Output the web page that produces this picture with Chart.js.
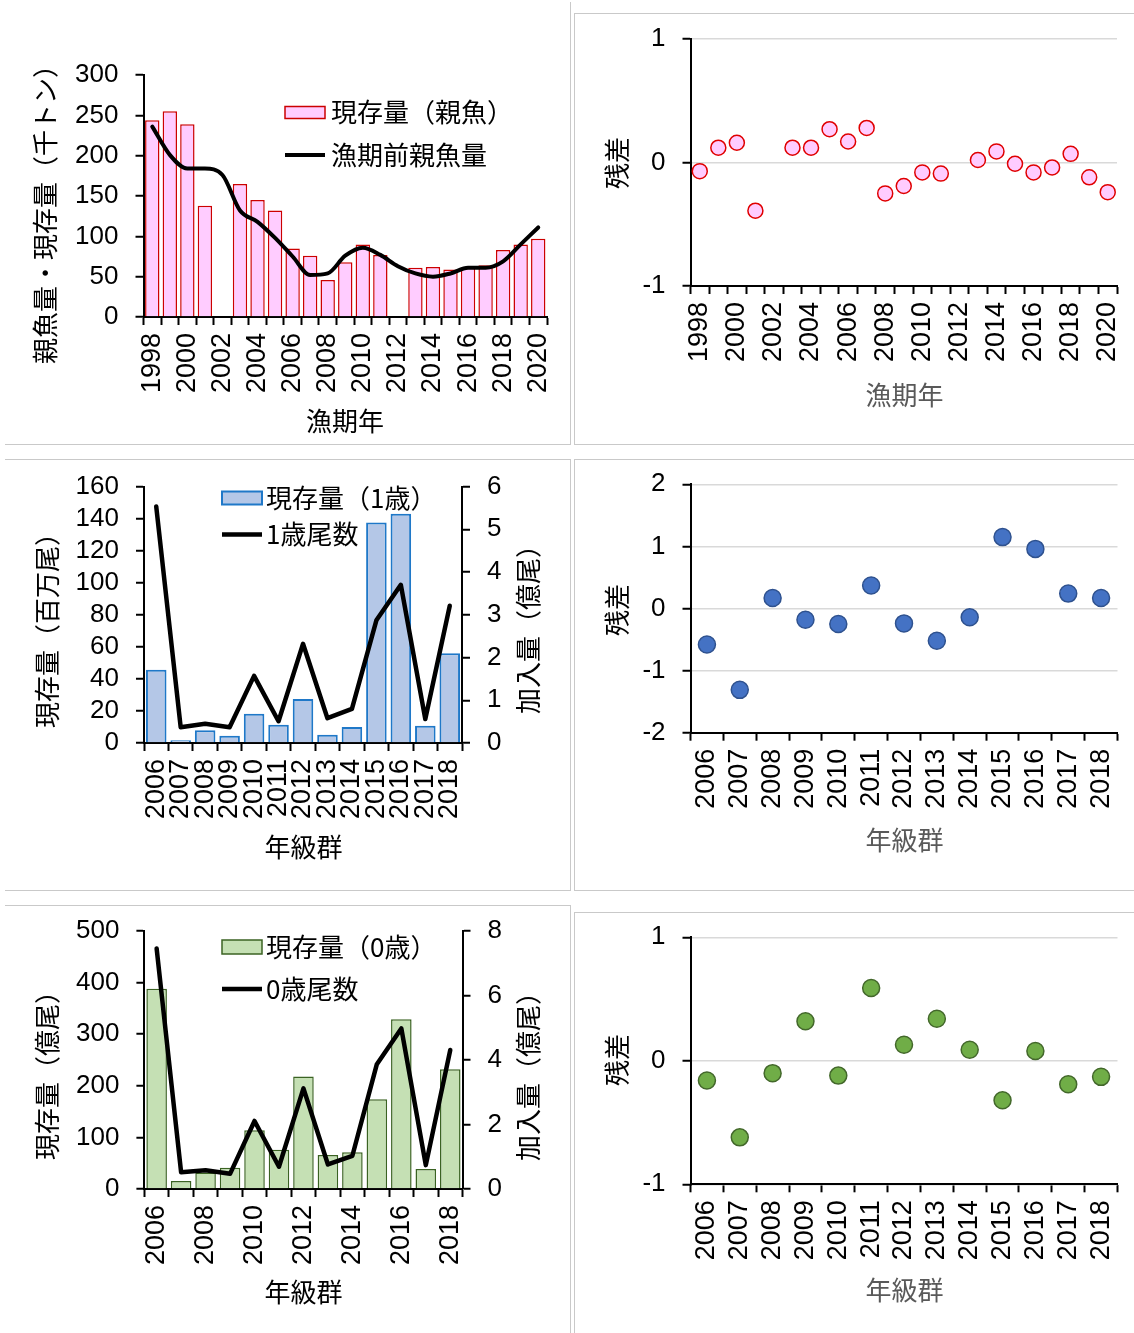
<!DOCTYPE html>
<html lang="ja">
<head>
<meta charset="utf-8">
<title>親魚量・加入量と残差</title>
<script src="https://cdn.jsdelivr.net/npm/chart.js@4.4.1/dist/chart.umd.min.js"></script>
<style>
  html, body { margin: 0; padding: 0; background: #fff; }
  body { width: 1134px; height: 1333px; position: relative; overflow: hidden; }
  canvas { position: absolute; }
  .rule { position: absolute; background: #c9c9c9; }
</style>
</head>
<body>
<canvas id="spawnerChart" width="570" height="444" style="left:0;top:0"></canvas>
<canvas id="spawnerResid" width="560" height="444" style="left:574px;top:0"></canvas>
<canvas id="age1Chart" width="570" height="431" style="left:0;top:459px"></canvas>
<canvas id="age1Resid" width="560" height="431" style="left:574px;top:459px"></canvas>
<canvas id="age0Chart" width="570" height="428" style="left:0;top:905px"></canvas>
<canvas id="age0Resid" width="560" height="428" style="left:574px;top:905px"></canvas>

<!-- panel frames -->
<div class="rule" style="left:570px;top:2px;width:1px;height:442px"></div>
<div class="rule" style="left:5px;top:444px;width:566px;height:1px"></div>
<div class="rule" style="left:574px;top:13px;width:1px;height:431px"></div>
<div class="rule" style="left:574px;top:13px;width:560px;height:1px"></div>
<div class="rule" style="left:574px;top:444px;width:560px;height:1px"></div>

<div class="rule" style="left:5px;top:459px;width:566px;height:1px"></div>
<div class="rule" style="left:570px;top:459px;width:1px;height:431px"></div>
<div class="rule" style="left:5px;top:890px;width:566px;height:1px"></div>
<div class="rule" style="left:574px;top:459px;width:1px;height:431px"></div>
<div class="rule" style="left:574px;top:459px;width:560px;height:1px"></div>
<div class="rule" style="left:574px;top:890px;width:560px;height:1px"></div>

<div class="rule" style="left:5px;top:905px;width:566px;height:1px"></div>
<div class="rule" style="left:570px;top:905px;width:1px;height:428px"></div>
<div class="rule" style="left:574px;top:912px;width:560px;height:1px"></div>
<div class="rule" style="left:574px;top:912px;width:1px;height:421px"></div>

<script>
// ---- data ----
const seasonYears = ['1998','1999','2000','2001','2002','2003','2004','2005','2006','2007','2008',
  '2009','2010','2011','2012','2013','2014','2015','2016','2017','2018','2019','2020'];
// 現存量（親魚）, 千トン
const spawnerStock = [244, 255, 239, 138, null, 165, 145, 132, 85, 76, 46,
  68, 90, 77, null, 61, 62, 59, 61, 64, 83, 90, 97];
// 漁期前親魚量, 千トン
const preSeasonSpawners = [236, 201, 184, 184, 176, 132, 118, 98, 75, 52, 54,
  76, 86, 77, 63, 54, 50, 54, 61, 61, 69, 90, 111];
const spawnerResiduals = [-0.07, 0.12, 0.16, -0.39, null, 0.12, 0.12, 0.27, 0.17, 0.28, -0.25,
  -0.19, -0.08, -0.09, null, 0.02, 0.09, -0.01, -0.08, -0.04, 0.07, -0.12, -0.24];

const yearClasses = ['2006','2007','2008','2009','2010','2011','2012','2013','2014','2015','2016','2017','2018'];
// 現存量（1歳）, 百万尾 / 1歳尾数, 億尾
const age1Stock = [45.7, 1.7, 7.9, 4.6, 18.3, 11.4, 27.4, 5.2, 10.0, 137.6, 143.0, 10.8, 56.0];
const age1Count = [5.53, 0.37, 0.45, 0.37, 1.57, 0.51, 2.32, 0.58, 0.80, 2.87, 3.70, 0.56, 3.21];
const age1Residuals = [-0.58, -1.31, 0.17, -0.18, -0.25, 0.37, -0.24, -0.52, -0.14, 1.15, 0.96, 0.24, 0.17];
// 現存量（0歳）, 億尾 / 0歳尾数, 億尾
const age0Stock = [388, 15.5, 32, 41, 114, 76, 218, 66, 71, 174, 329, 39, 232];
const age0Count = [7.46, 0.52, 0.58, 0.47, 2.11, 0.69, 3.12, 0.76, 1.03, 3.87, 4.98, 0.74, 4.31];
const age0Residuals = [-0.16, -0.62, -0.10, 0.32, -0.12, 0.59, 0.13, 0.34, 0.09, -0.32, 0.08, -0.19, -0.13];

// ---- shared styling ----
const LATIN = "'Liberation Sans', Arial, sans-serif";
const CJK = "'Noto Sans CJK JP', 'Noto Sans', sans-serif";
const CJK_FONT = "26px " + CJK;

Chart.defaults.font.family = LATIN;
Chart.defaults.font.size = 26;
Chart.defaults.color = '#000';
Chart.defaults.animation = false;
Chart.defaults.plugins.legend.display = false;
Chart.defaults.plugins.tooltip.enabled = false;

// axis titles drawn at fixed spots on each canvas
const panelTitles = {
  id: 'panelTitles',
  afterDraw(chart, args, opts) {
    const ctx = chart.ctx;
    (opts.items || []).forEach(it => {
      ctx.save();
      ctx.translate(it.x, it.y);
      if (it.rotate) ctx.rotate(it.rotate);
      ctx.font = it.font || CJK_FONT;
      ctx.fillStyle = it.color || '#000';
      ctx.textAlign = 'center';
      ctx.textBaseline = 'middle';
      ctx.fillText(it.text, 0, 0);
      ctx.restore();
    });
  }
};

// legend stacked inside the plot area, one row per dataset
const insideLegend = {
  id: 'insideLegend',
  afterDraw(chart, args, o) {
    if (!o || o.x == null) return;
    const ctx = chart.ctx;
    chart.data.datasets.forEach((ds, i) => {
      const y = o.y + i * o.rowGap;
      ctx.save();
      if ((ds.type || chart.config.type) === 'bar') {
        ctx.fillStyle = ds.backgroundColor;
        ctx.fillRect(o.x, y - o.boxH / 2, o.boxW, o.boxH);
        ctx.strokeStyle = ds.borderColor;
        ctx.lineWidth = ds.borderWidth;
        ctx.strokeRect(o.x, y - o.boxH / 2, o.boxW, o.boxH);
      } else {
        ctx.strokeStyle = ds.borderColor;
        ctx.lineWidth = ds.borderWidth;
        ctx.beginPath();
        ctx.moveTo(o.x, y);
        ctx.lineTo(o.x + o.boxW, y);
        ctx.stroke();
      }
      ctx.fillStyle = '#000';
      ctx.font = CJK_FONT;
      ctx.textAlign = 'left';
      ctx.textBaseline = 'middle';
      ctx.fillText(ds.label, o.textX, y);
      ctx.restore();
    });
  }
};
Chart.register(panelTitles, insideLegend);

const TICK_MARK = { drawTicks: true, tickLength: 8, tickWidth: 2, tickColor: '#000' };
const AXIS_LINE = { display: true, color: '#000', width: 2 };

function categoryAxis(height, everyOther) {
  return {
    type: 'category',
    offset: true,
    grid: Object.assign({ display: true, offset: true, drawOnChartArea: false }, TICK_MARK),
    border: AXIS_LINE,
    ticks: {
      autoSkip: false, minRotation: 90, maxRotation: 90, padding: 8,
      font: { size: 27 },
      callback(value, index) { return everyOther && index % 2 ? '' : this.getLabelForValue(value); }
    },
    afterFit(scale) {
      scale.height = height;
      scale.paddingLeft = 0;
      scale.paddingRight = 0;
    }
  };
}

function valueAxis(position, min, max, step, width, gridColor) {
  return {
    type: 'linear', position, min, max,
    ticks: { stepSize: step, padding: 17, autoSkip: false },
    grid: Object.assign({
      display: true, drawOnChartArea: !!gridColor,
      color: gridColor || 'rgba(0,0,0,0)', lineWidth: 1.5
    }, TICK_MARK),
    border: AXIS_LINE,
    afterFit(scale) {
      // fixed axis band; the plot area edges come from layout padding alone
      scale.width = width;
      scale.paddingTop = 0;
      scale.paddingBottom = 0;
    }
  };
}

function residualChart(id, labels, values, fill, stroke, radius, pad, yMin, yMax, xHeight, everyOther, titles) {
  return new Chart(document.getElementById(id), {
    type: 'line',
    data: {
      labels,
      datasets: [{
        label: '残差', data: values, showLine: false,
        pointRadius: radius, pointBackgroundColor: fill,
        pointBorderColor: stroke, pointBorderWidth: 1.5
      }]
    },
    options: {
      responsive: false,
      layout: { autoPadding: false, padding: pad },
      scales: {
        x: categoryAxis(xHeight, everyOther),
        y: valueAxis('left', yMin, yMax, 1, 116.5, '#d9d9d9')
      },
      plugins: { panelTitles: { items: titles } }
    }
  });
}

const UP = -Math.PI / 2;

// 親魚: 現存量 bars with pre-season spawner line
new Chart(document.getElementById('spawnerChart'), {
  type: 'bar',
  data: {
    labels: seasonYears,
    datasets: [
      { type: 'bar', label: '現存量（親魚）', data: spawnerStock,
        backgroundColor: '#ffccff', borderColor: '#cc0000', borderWidth: 1.5,
        barPercentage: 0.82, categoryPercentage: 1, order: 2 },
      { type: 'line', label: '漁期前親魚量', data: preSeasonSpawners,
        borderColor: '#000', borderWidth: 4, pointRadius: 0,
        cubicInterpolationMode: 'monotone',
        borderJoinStyle: 'round', borderCapStyle: 'round', order: 1 }
    ]
  },
  options: {
    responsive: false,
    layout: { autoPadding: false, padding: { left: 0, top: 75, right: 23, bottom: 0 } },
    scales: {
      x: categoryAxis(127, true),
      y: valueAxis('left', 0, 300, 50, 143.5)
    },
    plugins: {
      insideLegend: { x: 285, y: 112.5, rowGap: 42.5, boxW: 40, boxH: 12, textX: 331 },
      panelTitles: { items: [
        { text: '親魚量・現存量（千トン）', x: 45.5, y: 208, rotate: UP },
        { text: '漁期年', x: 345, y: 421 }
      ] }
    }
  }
});

residualChart('spawnerResid', seasonYears, spawnerResiduals, '#ffccff', '#e00000', 7.5,
  { left: 0, top: 39, right: 17, bottom: 0 }, -1, 1, 158, true, [
    { text: '残差', x: 42.8, y: 163, rotate: UP },
    { text: '漁期年', x: 330.5, y: 395, color: '#595959' }
  ]);

// 1歳: 現存量 bars (left) with 1歳尾数 line (right)
new Chart(document.getElementById('age1Chart'), {
  type: 'bar',
  data: {
    labels: yearClasses,
    datasets: [
      { type: 'bar', label: '現存量（1歳）', data: age1Stock, yAxisID: 'y',
        backgroundColor: '#b4c7e7', borderColor: '#1f78c8', borderWidth: 2,
        barPercentage: 0.84, categoryPercentage: 1, order: 2 },
      { type: 'line', label: '1歳尾数', data: age1Count, yAxisID: 'y2',
        borderColor: '#000', borderWidth: 4.5, pointRadius: 0, tension: 0,
        borderJoinStyle: 'round', borderCapStyle: 'round', order: 1 }
    ]
  },
  options: {
    responsive: false,
    layout: { autoPadding: false, padding: { left: 0, top: 27.5, right: 0, bottom: 0 } },
    scales: {
      x: categoryAxis(147, false),
      y: valueAxis('left', 0, 160, 20, 144),
      y2: valueAxis('right', 0, 6, 1, 108)
    },
    plugins: {
      insideLegend: { x: 222, y: 39, rowGap: 36.5, boxW: 40, boxH: 13, textX: 266 },
      panelTitles: { items: [
        { text: '現存量（百万尾）', x: 47.3, y: 165, rotate: UP },
        { text: '加入量（億尾）', x: 528, y: 164, rotate: UP },
        { text: '年級群', x: 303.6, y: 387.7 }
      ] }
    }
  }
});

residualChart('age1Resid', yearClasses, age1Residuals, '#4472c4', '#2f528f', 8.5,
  { left: 0, top: 25.3, right: 16.5, bottom: 0 }, -2, 2, 157.3, false, [
    { text: '残差', x: 42.8, y: 151, rotate: UP },
    { text: '年級群', x: 330.5, y: 381, color: '#595959' }
  ]);

// 0歳: 現存量 bars (left) with 0歳尾数 line (right)
new Chart(document.getElementById('age0Chart'), {
  type: 'bar',
  data: {
    labels: yearClasses,
    datasets: [
      { type: 'bar', label: '現存量（0歳）', data: age0Stock, yAxisID: 'y',
        backgroundColor: '#c5e0b4', borderColor: '#3b6323', borderWidth: 1.5,
        barPercentage: 0.84, categoryPercentage: 1, order: 2 },
      { type: 'line', label: '0歳尾数', data: age0Count, yAxisID: 'y2',
        borderColor: '#000', borderWidth: 4.5, pointRadius: 0, tension: 0,
        borderJoinStyle: 'round', borderCapStyle: 'round', order: 1 }
    ]
  },
  options: {
    responsive: false,
    layout: { autoPadding: false, padding: { left: 0, top: 26, right: 0, bottom: 0 } },
    scales: {
      x: categoryAxis(144, true),
      y: valueAxis('left', 0, 500, 100, 144.4),
      y2: valueAxis('right', 0, 8, 2, 107.5)
    },
    plugins: {
      insideLegend: { x: 222, y: 42, rowGap: 42, boxW: 40, boxH: 14, textX: 266 },
      panelTitles: { items: [
        { text: '現存量（億尾）', x: 47.3, y: 164, rotate: UP },
        { text: '加入量（億尾）', x: 528, y: 165, rotate: UP },
        { text: '年級群', x: 303.6, y: 386.7 }
      ] }
    }
  }
});

residualChart('age0Resid', yearClasses, age0Residuals, '#70ad47', '#43682b', 8.5,
  { left: 0, top: 32.3, right: 16.5, bottom: 0 }, -1, 1, 148.7, false, [
    { text: '残差', x: 42.8, y: 155, rotate: UP },
    { text: '年級群', x: 330.5, y: 385, color: '#595959' }
  ]);
</script>
</body>
</html>
